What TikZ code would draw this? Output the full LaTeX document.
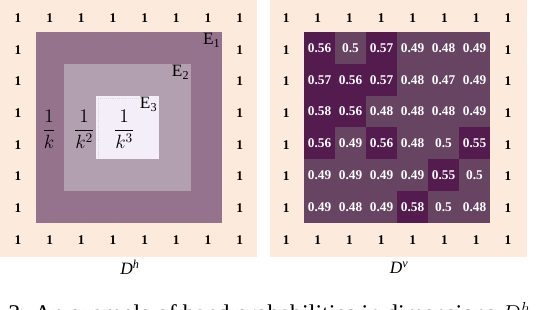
\documentclass[tikz,border=0pt]{standalone}
\usepackage{amsmath}
\usepackage{fontspec}
\setmainfont{Liberation Serif}
\usetikzlibrary{positioning}
\definecolor{peach}{HTML}{FCEBDD}
\definecolor{bandA}{HTML}{95738D}
\definecolor{bandB}{HTML}{B29FB0}
\definecolor{bandC}{HTML}{F3EEF8}
\definecolor{hi}{HTML}{541B4F}
\definecolor{lo}{HTML}{664462}

\begin{document}
\begin{tikzpicture}[
  x=24pt,y=24pt,
  one/.style={font=\fontsize{10}{12}\selectfont\bfseries,inner sep=0pt},
  sq/.style={inner sep=0pt,minimum size=#1},
  cell/.style={inner sep=0pt,minimum width=23.25pt,minimum height=23.85pt,
    text=white,font=\fontsize{10}{12}\selectfont\bfseries},
  elab/.style={anchor=north east,inner sep=1.2pt,font=\fontsize{13}{15}\selectfont},
  fr/.style={font=\fontsize{14}{16}\selectfont,inner sep=0pt},
  lab/.style={font=\fontsize{13}{15}\selectfont}]
 \useasboundingbox (0,0) rectangle (17.0625,-9.6875);

 % ---- left panel: bands ----
 \node[fill=peach,sq=192.75pt] (Dh) at (4.03,-4.02) {};
 \node[fill=bandA,minimum width=139.5pt,minimum height=143.25pt,inner sep=0pt] (E1) at (4.03,-3.98) {};
 \node[fill=bandB,sq=95.25pt] (E2) at (3.98,-3.98) {};
 \node[fill=bandC,sq=47.25pt] (E3) at (3.98,-3.98) {};
 \draw[densely dotted,black!14] ([shift={(2pt,1pt)}]E3.south west) |- ([shift={(-10pt,-2pt)}]E3.north east);
 \node[elab] (e1) at (E1.north east) {E\textsubscript{1}};
 \node[elab] (e2) at (E2.north east) {E\textsubscript{2}};
 \node[elab] (e3) at (E3.north east) {E\textsubscript{3}};
 \node[fr] (f1) at (1.53,-4.03) {$\dfrac{1}{k}$};
 \node[fr] (f2) at (2.63,-4.03) {$\dfrac{1}{k^2}$};
 \node[fr] (f3) at (3.88,-4.03) {$\dfrac{1}{k^3}$};

 % ---- right panel: values ----
 \node[fill=peach,sq=192.75pt] (Dv) at (12.44,-4.02) {};
 \foreach \row [count=\j] in {{0.56,0.5,0.57,0.49,0.48,0.49},{0.57,0.56,0.57,0.48,0.47,0.49},
   {0.58,0.56,0.48,0.48,0.48,0.49},{0.56,0.49,0.56,0.48,0.5,0.55},
   {0.49,0.49,0.49,0.49,0.55,0.5},{0.49,0.48,0.49,0.58,0.5,0.48}}
   \foreach \v [count=\i] in \row {
     \ifdim\v pt<0.55pt \def\cl{lo}\else\def\cl{hi}\fi
     \node[cell,fill=\cl] (v\j\i) at ({(319.5+31*(\i-1))/32},{-(47.9+31.8*(\j-1))/32}) {\v};
   }

 % ---- border ones ----
 \foreach \i in {0,...,7} {
   \node[one] (ht\i) at ({0.56+0.99*\i},-0.56) {1};
   \node[one] (hb\i) at ({0.56+0.99*\i},-7.49) {1};
   \node[one] (vt\i) at ({8.94+0.99*\i},-0.56) {1};
   \node[one] (vb\i) at ({8.94+0.99*\i},-7.49) {1};
 }
 \foreach \j in {1,...,6} {
   \node[one] (hl\j) at (0.56,{-0.56-0.99*\j}) {1};
   \node[one] (hr\j) at (7.49,{-0.56-0.99*\j}) {1};
   \node[one] (vl\j) at (8.94,{-0.56-0.99*\j}) {1};
   \node[one] (vr\j) at (15.87,{-0.56-0.99*\j}) {1};
 }

 % ---- labels ----
 \node[lab] (lh) at (4.06,-8.36) {\textit{D}\textsuperscript{\textit{h}}};
 \node[lab] (lv) at (12.47,-8.36) {\textit{D}\textsuperscript{\textit{v}}};
 \node[anchor=base west,inner sep=0pt,font=\fontsize{18}{22}\selectfont] (cap) at (0.25,-10.05)
   {3. An example of band probabilities in dimensions $D^h$};
\end{tikzpicture}
\end{document}
